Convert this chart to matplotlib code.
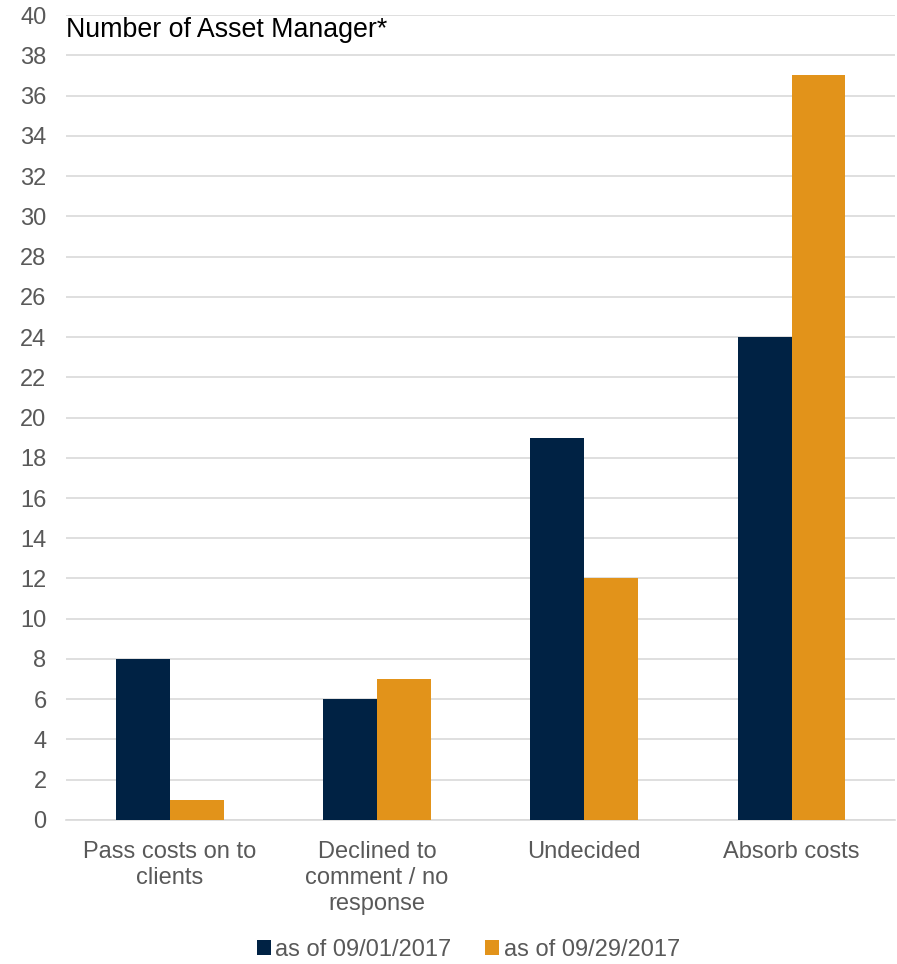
import matplotlib
matplotlib.use("Agg")
import matplotlib.pyplot as plt
import numpy as np

categories = ["Pass costs on to\nclients", "Declined to\ncomment / no\nresponse", "Undecided", "Absorb costs"]
series_names = ["as of 09/01/2017", "as of 09/29/2017"]
values_0901 = [8, 6, 19, 24]
values_0929 = [1, 7, 12, 37]
yticks = list(range(0, 41, 2))

colors = ["#002244", "#E2931A"]
plt.rcParams['font.family'] = ['Liberation Sans', 'DejaVu Sans']

fig = plt.figure(figsize=(8.97, 9.64), dpi=100)
ax = fig.add_axes([0.0736, 0.1494, 0.9244, 0.835])

x = np.arange(len(categories))
w = 0.26
ax.bar(x - w/2, values_0901, w, color=colors[0], label=series_names[0], zorder=3)
ax.bar(x + w/2, values_0929, w, color=colors[1], label=series_names[1], zorder=3)

ax.set_xlim(-0.5, len(categories) - 0.5)
ax.set_ylim(0, 40)
ax.set_yticks(yticks)
ax.set_xticks(x)
ax.set_xticklabels(categories, fontsize=17, color="#595959", linespacing=1.25)
ax.tick_params(axis='y', labelsize=17, labelcolor="#595959", length=0, pad=14)
ax.tick_params(axis='x', length=0, pad=15)
ax.grid(axis='y', color="#d9d9d9", linewidth=1.2, zorder=0)
for s in ["top", "right", "left"]:
    ax.spines[s].set_visible(False)
ax.spines["bottom"].set_color("#d9d9d9")
ax.spines["bottom"].set_linewidth(1.2)

ax.text(0.0, 0.998, "Number of Asset Manager*", transform=ax.transAxes,
        fontsize=19.3, color="black", va="top", ha="left")

fig.legend(loc="center", bbox_to_anchor=(0.522, 1 - 950 / 964), ncol=2, frameon=False,
           fontsize=17, labelcolor="#595959", handlelength=0.6, handleheight=0.6,
           handletextpad=0.2, columnspacing=1.4, borderpad=0)

fig.savefig("out.png", dpi=100)
